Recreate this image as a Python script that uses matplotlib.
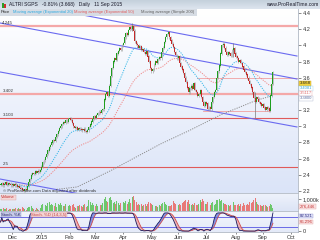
import numpy as np
import pandas as pd
import matplotlib
matplotlib.use('Agg')
import matplotlib.pyplot as plt
from matplotlib.colors import LinearSegmentedColormap

plt.rcParams['font.family'] = ['Liberation Sans', 'DejaVu Sans']

# daily closes (18 Nov 2014 - 11 Sep 2015)
closes = [
    # Nov
    2.28, 2.30, 2.27, 2.29, 2.31, 2.28, 2.30, 2.29, 2.27,
    # Dec
    2.28, 2.26, 2.29, 2.27, 2.25, 2.26, 2.24, 2.23, 2.21, 2.20, 2.22, 2.21,
    2.26, 2.31, 2.35, 2.40, 2.42, 2.41, 2.44, 2.43, 2.45, 2.44, 2.46,
    # Jan
    2.50, 2.55, 2.58, 2.62, 2.66, 2.70, 2.74, 2.77, 2.80, 2.83, 2.82, 2.87,
    2.90, 2.94, 2.98, 3.00, 3.03, 3.05, 3.04, 3.07, 3.06, 3.09,
    # Feb
    3.10, 3.08, 3.04, 3.00, 2.98, 2.99, 2.96, 2.98, 2.97, 2.96, 2.95, 2.97,
    2.94, 2.93, 2.95, 2.99, 3.02, 3.06, 3.09, 3.12,
    # Mar
    3.11, 3.14, 3.16, 3.18, 3.17, 3.20, 3.21, 3.33, 3.40, 3.42, 3.38, 3.50,
    3.62, 3.72, 3.80, 3.84, 3.82, 3.90, 3.93, 3.96, 3.94, 4.00,
    # Apr
    4.03, 4.10, 4.15, 4.13, 4.19, 4.22, 4.20, 4.24, 4.18, 4.05, 4.02, 4.00,
    3.97, 3.99, 3.94, 3.95, 3.92, 3.90, 3.93, 3.86, 3.80, 3.72,
    # May
    3.68, 3.70, 3.76, 3.80, 3.78, 3.83, 3.85, 3.84, 3.92, 3.97, 4.04, 4.10,
    4.14, 4.16, 4.10, 4.06, 4.02, 3.98, 3.92, 3.88, 3.84,
    # Jun
    3.86, 3.78, 3.74, 3.70, 3.66, 3.60, 3.55, 3.48, 3.42, 3.47, 3.50, 3.46,
    3.53, 3.45, 3.42, 3.38, 3.40, 3.44, 3.36, 3.30, 3.25, 3.30,
    # Jul
    3.28, 3.22, 3.24, 3.21, 3.30, 3.36, 3.42, 3.45, 3.60, 3.68, 3.75, 3.90,
    4.00, 4.02, 3.97, 3.92, 3.88, 3.92, 3.90, 3.87, 3.94, 3.96, 3.90,
    # Aug
    3.86, 3.84, 3.80, 3.82, 3.78, 3.74, 3.70, 3.67, 3.64, 3.60, 3.56, 3.52,
    3.48, 3.42, 3.35, 3.30, 3.36, 3.34, 3.30, 3.28, 3.25,
    # Sep
    3.27, 3.23, 3.20, 3.24, 3.22, 3.19, 3.38, 3.52, 3.668,
]

# volume in thousands
volume_k = [
    180, 150, 210, 130, 160, 240, 120, 170, 200,
    190, 140, 160, 220, 130, 250, 180, 150, 300, 210, 170, 120, 260, 350,
    310, 420, 280, 150, 90, 230, 180, 110, 260,
    480, 620, 700, 540, 380, 650, 720, 460, 590, 530, 410, 640, 350, 560,
    480, 690, 520, 430, 380, 610, 340, 450,
    520, 390, 480, 610, 360, 290, 450, 380, 520, 410, 330, 470, 560, 300,
    420, 880, 760, 540, 690, 480,
    430, 560, 390, 610, 470, 520, 640, 980, 1150, 820, 760, 1050, 1200, 940,
    680, 720, 590, 810, 650, 540, 700, 620,
    780, 690, 850, 560, 720, 980, 640, 1180, 1250, 900, 760, 540, 620, 480,
    590, 430, 520, 610, 380, 560, 720, 640,
    580, 460, 520, 390, 440, 360, 500, 420, 610, 680, 740, 560, 480, 390,
    450, 380, 520, 870, 640, 560, 470,
    500, 620, 540, 680, 760, 820, 940, 720, 880, 560, 480, 620, 520, 700,
    460, 540, 620, 880, 760, 980, 840, 560,
    620, 740, 560, 480, 650, 720, 540, 610, 880, 960, 1020, 840, 920, 700,
    560, 620, 480, 540, 420, 500, 580, 720, 460,
    520, 480, 610, 440, 560, 380, 690, 520, 470, 610, 540, 720, 640, 780,
    880, 1080, 760, 620, 540, 480, 420,
    380, 460, 520, 410, 360, 440, 620, 540, 276,
]

# long wicks that stand out
wick_dates = ['2015-08-24', '2015-07-30', '2015-04-10']
wick_low = [3.10, 3.86, 4.18]
wick_high = [3.42, 4.03, 4.27]

# 200-day simple average, read at a few dates
sma_dates = ['2015-01-19', '2015-02-10', '2015-03-18', '2015-05-12',
             '2015-06-12', '2015-07-16', '2015-08-25', '2015-09-11']
sma_values = [2.22, 2.25, 2.45, 2.78, 2.95, 3.14, 3.32, 3.38]

# horizontal levels drawn on the chart
levels = [4.245, 3.402, 3.103, 2.5]
level_labels = ['4.245', '3.402', '3.103', '2.5']
# short horizontal segments (start bar, end bar, price)
segments = [(154, 232, 3.60), (158, 211, 3.19)]
# trend channel lines, (bar, price) pairs
trend_lines = [((55.9, 4.40), (231.8, 3.868)),
               ((-0.4, 4.276), (231.8, 3.584)),
               ((-0.4, 3.671), (231.8, 2.991)),
               ((-0.4, 2.348), (62.0, 2.163))]

# last values printed on the right axis
stoch_k_last = '82.521'
stoch_d_last = '65.296'
volume_last = '276,446'

months = ['Dec', '2015', 'Feb', 'Mar', 'Apr', 'May', 'Jun', 'Jul', 'Aug', 'Sep', 'Oct']

dates = pd.bdate_range('2014-11-18', '2015-10-30')
n = len(closes)
close = pd.Series(closes)
opens = close.shift(1).fillna(close.iloc[0])
x = np.arange(n)
up = close.values >= opens.values

ema20 = close.ewm(span=20, adjust=False).mean()
ema50 = close.ewm(span=50, adjust=False).mean()
hh = close.rolling(14, min_periods=1).max()
ll = close.rolling(14, min_periods=1).min()
k_raw = (100 * (close - ll) / (hh - ll).replace(0, np.nan)).fillna(50)
stoch_k = k_raw.rolling(3, min_periods=1).mean()
stoch_d = stoch_k.rolling(5, min_periods=1).mean()

W, H = 320, 240
xmin, xmax = -0.4, 232.6
fig = plt.figure(figsize=(3.2, 2.4), dpi=100)


def box(y0, y1, x1=298):
    return [0, 1 - y1 / H, x1 / W, (y1 - y0) / H]


def gradient(ax, c_top, c_bot):
    cm = LinearSegmentedColormap.from_list('g', [c_top, c_bot])
    ax.imshow(np.linspace(0, 1, 64).reshape(-1, 1), cmap=cm, aspect='auto',
              extent=[0, 1, 0, 1], transform=ax.transAxes, zorder=0)


def style(ax):
    for s in ['left', 'top']:
        ax.spines[s].set_visible(False)
    for s in ['right', 'bottom']:
        ax.spines[s].set_color('#b0b8c4')
        ax.spines[s].set_linewidth(0.6)
    ax.yaxis.tick_right()
    ax.tick_params(axis='y', labelsize=4, colors='#333333', length=2, width=0.4, pad=1.5)
    ax.set_xticks([])
    ax.set_xlim(xmin, xmax)


def tag(ax, yfrac, text, fg, bg, ec, size=3.1):
    ax.text(1.006, yfrac, text, transform=ax.transAxes, fontsize=size, color=fg, va='center',
            bbox=dict(boxstyle='square,pad=0.1', fc=bg, ec=ec, lw=0.3))


# price panel
ax = fig.add_axes(box(9, 193))
gradient(ax, '#ffffff', '#dbe4f8')
style(ax)
ax.set_ylim(2.175, 4.449)
ticks = np.arange(2.2, 4.41, 0.2)
ax.set_yticks(ticks)
# the 3.4 label sits under the value boxes
ax.set_yticklabels(['' if abs(v - 3.4) < 1e-6 else '%g' % round(v, 1) for v in ticks])

for lv, lab in zip(levels, level_labels):
    thick = lab in ('4.245', '3.402')
    ax.axhline(lv, color='#f4a8a8' if thick else '#e05a5a', lw=1.6 if thick else 0.8, zorder=1)
    ax.text(1.5, lv + 0.012, lab, fontsize=3.2, color='#333333', va='bottom', zorder=6)
for a, b, p in segments:
    ax.plot([a, b], [p, p], color='#f0a0a0', lw=0.6, zorder=1)
for (xa, ya), (xb, yb) in trend_lines:
    ax.plot([xa, xb], [ya, yb], color='#6a6af0', lw=0.8, zorder=2)

sma_x = [dates.get_loc(pd.Timestamp(d)) for d in sma_dates]
ax.plot(sma_x, sma_values, color='#8c8c8c', lw=0.7, ls=(0, (1.2, 1.2)), zorder=3)
ax.plot(x, ema50, color='#f08a8a', lw=0.7, ls=(0, (1.2, 1.2)), zorder=3)
ax.plot(x, ema20, color='#38b8e8', lw=0.7, ls=(0, (1.2, 1.2)), zorder=3)

lo = np.minimum(opens.values, close.values)
hi = np.maximum(opens.values, close.values)
ax.vlines(x, lo - 0.016, hi + 0.016, color='#a0a0a0', lw=0.45, zorder=4)
wx = [dates.get_loc(pd.Timestamp(d)) for d in wick_dates]
ax.vlines(wx, wick_low, wick_high, color='#7a7a7a', lw=0.5, zorder=4)
ax.bar(x, hi - lo + 0.004, bottom=lo - 0.002, width=0.75,
       color=np.where(up, '#1e9e1e', '#c42a2a'), zorder=5, linewidth=0)

ax.text(2, 2.19, '\u00a9 ProRealTime.com Data adjusted after dividends',
        fontsize=3.1, color='#333333', zorder=6)

# right-side value boxes
tag(ax, 0.596, '3.668', '#222222', '#f2d23c', '#c8a020', size=3.2)
tag(ax, 0.569, '%.4f' % ema20.iloc[-1], '#38a8d8', 'white', '#9cd4ec', size=3.0)
tag(ax, 0.542, '%.4f' % ema50.iloc[-1], '#e07070', 'white', '#f0b0b0', size=3.0)
tag(ax, 0.515, '%.4f' % sma_values[-1], '#6070a0', 'white', '#b0b8d0', size=3.0)

# volume panel
av = fig.add_axes(box(194, 211))
gradient(av, '#eef2fb', '#dce4f6')
style(av)
av.set_ylim(0, 1420)
av.bar(x, volume_k, width=0.75, color=np.where(up, '#6cc86c', '#e87878'), linewidth=0, zorder=3)
av.set_yticks([1000])
av.set_yticklabels(['1,000k'])
tag(av, 0.25, volume_last, '#c03030', '#fbe4e4', '#e0a0a0')
av.text(0.004, 0.93, 'Volume', transform=av.transAxes, fontsize=3.1, color='#c03030', va='top',
        bbox=dict(boxstyle='square,pad=0.15', fc='#f4d8d8', ec='#d8a0a0', lw=0.3), zorder=6)

# stochastic panel
ast = fig.add_axes(box(212, 232))
gradient(ast, '#f2f5fc', '#e4eaf8')
style(ast)
ast.set_ylim(-5, 105)
ast.axhline(80, color='#6a6ae6', lw=0.7, zorder=2)
ast.axhline(20, color='#6a6ae6', lw=0.7, zorder=2)
ast.fill_between(x, stoch_k, stoch_d, where=stoch_k >= stoch_d, color='#5a6ad8', alpha=0.7,
                 lw=0, interpolate=True, zorder=3)
ast.fill_between(x, stoch_k, stoch_d, where=stoch_k < stoch_d, color='#f09a9a', alpha=0.7,
                 lw=0, interpolate=True, zorder=3)
ast.plot(x, stoch_d, color='#d04a4a', lw=0.6, zorder=4)
ast.plot(x, stoch_k, color='#1c1c5c', lw=0.6, zorder=4)
ast.set_yticks([0])
ast.set_yticklabels(['0'])
tag(ast, 0.80, stoch_k_last, '#2a2a80', '#e2e4f8', '#9090d0')
tag(ast, 0.50, stoch_d_last, '#c03030', '#fbe4e4', '#e0a0a0')
ast.text(0.004, 0.96, 'Stoch. %K', transform=ast.transAxes, fontsize=3.1, color='#202060', va='top',
         bbox=dict(boxstyle='square,pad=0.15', fc='#c8cce8', ec='#9098c8', lw=0.3), zorder=6)
ast.text(0.105, 0.96, 'Stoch. %D (14,3,5)', transform=ast.transAxes, fontsize=3.1, color='#c04848',
         va='top', bbox=dict(boxstyle='square,pad=0.15', fc='#f4d4d4', ec='#d8a0a0', lw=0.3), zorder=6)

# month labels along the bottom
starts = [dates.get_loc(dates[dates >= pd.Timestamp(2014, 12, 1) + pd.DateOffset(months=i)][0])
          for i in range(len(months))]
ast.set_xticks(starts)
ast.set_xticklabels(months)
ast.tick_params(axis='x', labelsize=4, colors='#333333', length=1.5, width=0.4, pad=1)

# title bar
at = fig.add_axes([0, 1 - 9 / H, 1, 9 / H])
at.axis('off')
gradient(at, '#c4d0dc', '#dde5ee')
at.set_xlim(0, W)
at.set_ylim(0, 9)
at.bar([3.0, 5.0], [5, 3.5], bottom=1.5, width=1.4, color=['#2aa02a', '#d03030'], zorder=2)
at.text(9, 4.6, 'ALTRI SGPS   -0.81% (3.668)   Daily   11 Sep 2015', fontsize=3.6,
        color='#1a1a2a', va='center', zorder=3)
at.text(318, 4.6, 'www.ProRealTime.com', fontsize=3.6, color='#1a1a2a', va='center', ha='right', zorder=3)

# legend row
fig.patches.append(plt.Rectangle((0, 1 - 15.5 / H), 197 / W, 6.5 / H, transform=fig.transFigure,
                                 fc='#d6dce4', ec='none', zorder=5))
legend = [('Price', '#222222', 1), ('Moving average (Exponential 20)', '#2aa8e0', 13),
          ('Moving average (Exponential 50)', '#e05a5a', 74), ('Moving average (Simple 200)', '#606060', 141)]
for txt, col, px in legend:
    fig.text(px / W, 1 - 12.3 / H, txt, fontsize=3.0, color=col, va='center', zorder=6)

fig.savefig('out.png', dpi=100)
